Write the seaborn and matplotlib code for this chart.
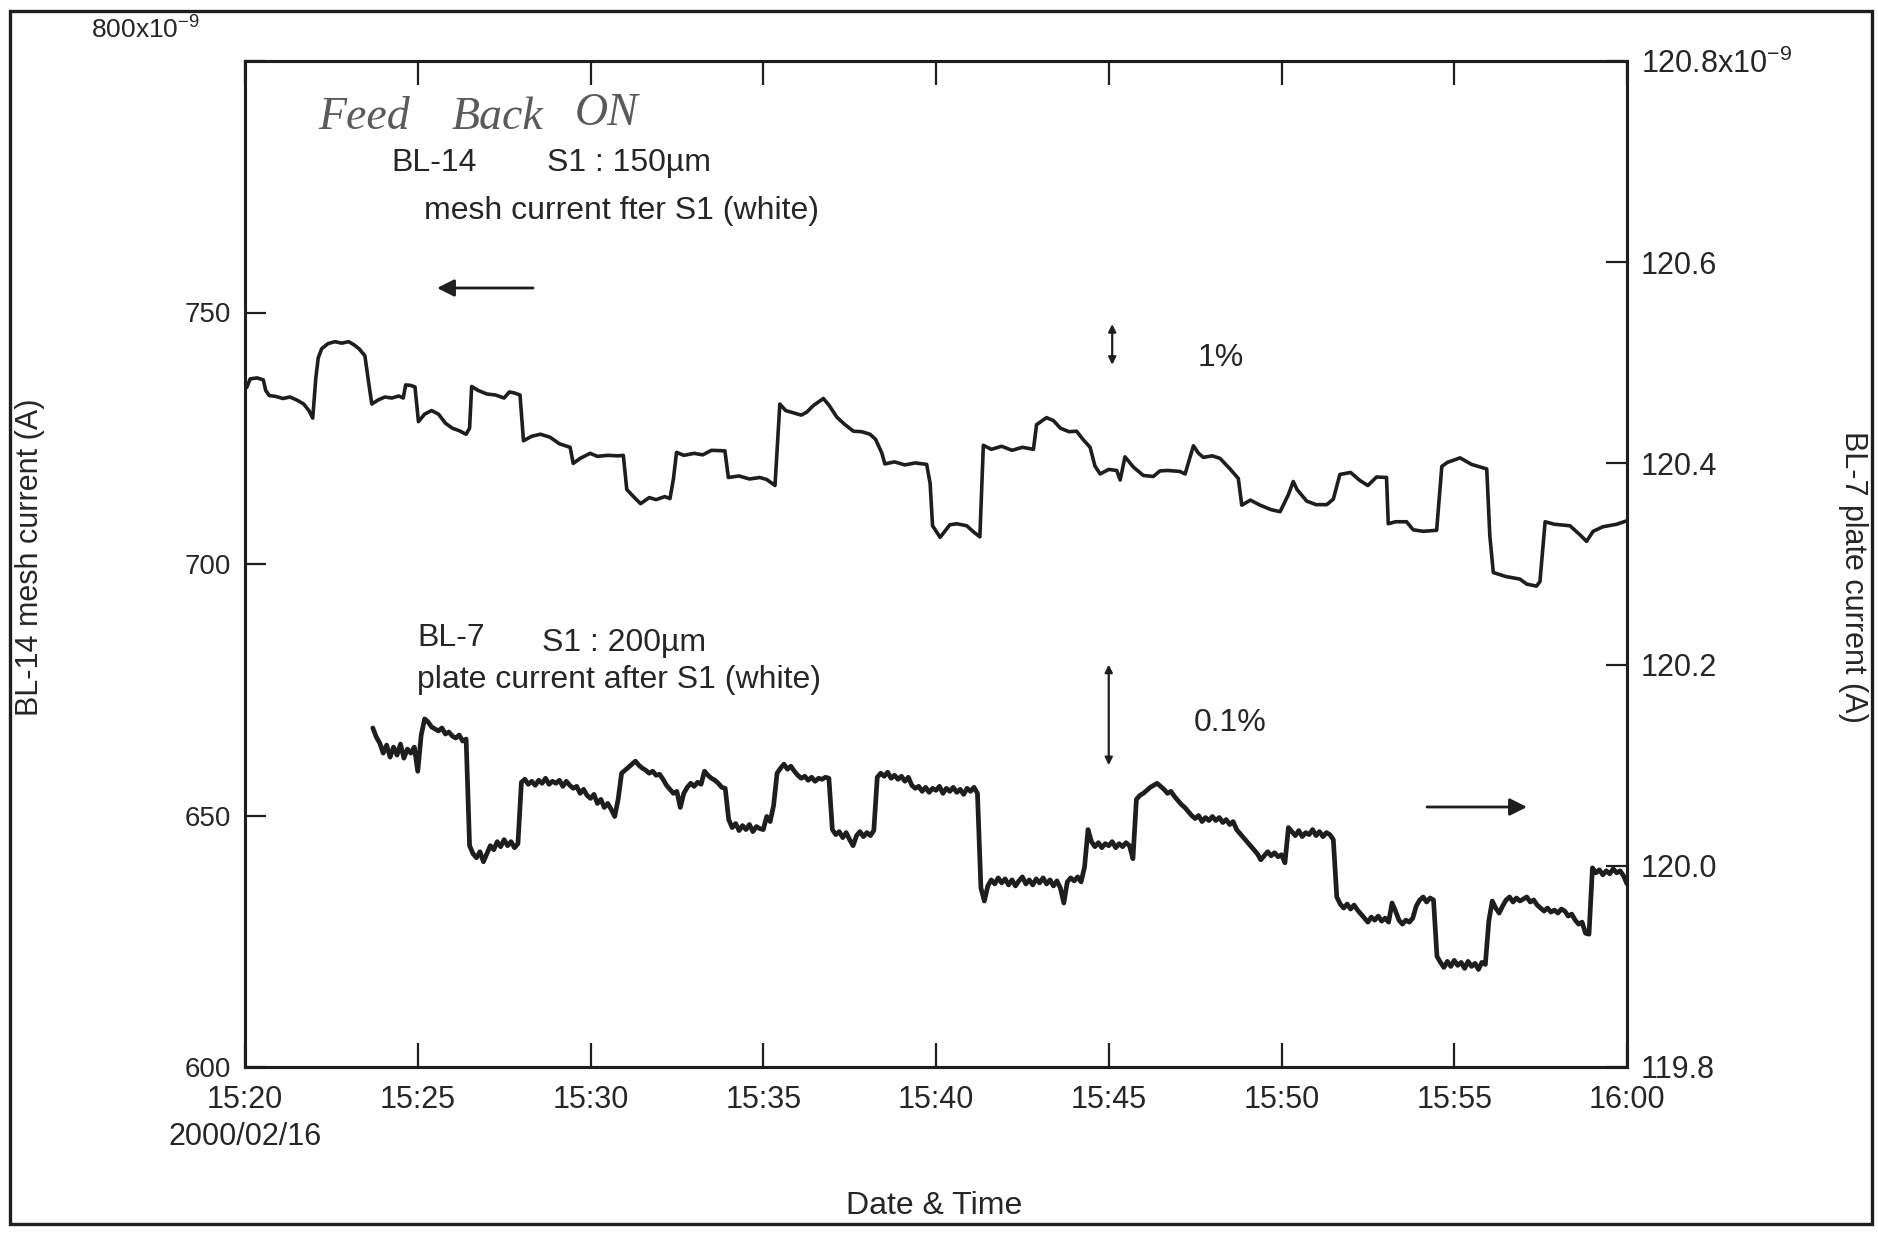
import numpy as np
import pandas as pd
import matplotlib
matplotlib.use("Agg")
import matplotlib.pyplot as plt
import seaborn as sns
from matplotlib.patches import Rectangle

# ---------------- data ----------------
# minutes after 15:20 (2000/02/16)
x_ticks = [0, 5, 10, 15, 20, 25, 30, 35, 40]
x_tick_labels = ["15:20\n2000/02/16", "15:25", "15:30", "15:35", "15:40",
                 "15:45", "15:50", "15:55", "16:00"]
left_ticks = [600, 650, 700, 750, 800]
left_tick_labels = ["600", "650", "700", "750", ""]
left_top_label = r"800x10$^{\mathregular{-9}}$"
right_ticks = [119.8, 120.0, 120.2, 120.4, 120.6, 120.8]
right_tick_labels = ["119.8", "120.0", "120.2", "120.4", "120.6",
                     r"120.8x10$^{\mathregular{-9}}$"]

# BL-14 mesh current (x1e-9 A), left axis
mesh_t = [0.00, 0.05, 0.15, 0.35, 0.53, 0.60, 0.70, 0.90, 1.10, 1.30, 1.50, 1.70, 1.85, 1.96,
          2.05, 2.12, 2.22, 2.40, 2.60, 2.80, 3.00, 3.15, 3.30, 3.47, 3.58, 3.67, 3.85, 4.05,
          4.25, 4.45, 4.58, 4.65, 4.80, 4.92, 5.02, 5.20, 5.40, 5.60, 5.80, 6.00, 6.20, 6.40,
          6.50, 6.56, 6.75, 7.00, 7.25, 7.50, 7.65, 7.80, 7.96, 8.06, 8.30, 8.55, 8.83, 9.10,
          9.41, 9.50, 9.70, 9.99, 10.20, 10.50, 10.80, 10.95, 11.05, 11.30, 11.45, 11.70, 11.90,
          12.15, 12.30, 12.40, 12.49, 12.70, 13.00, 13.25, 13.50, 13.89, 13.99, 14.30, 14.60,
          14.90, 15.10, 15.34, 15.48, 15.65, 15.90, 16.10, 16.26, 16.45, 16.74, 16.90, 17.13,
          17.35, 17.61, 17.85, 18.09, 18.25, 18.43, 18.52, 18.80, 19.10, 19.40, 19.73, 19.83,
          19.90, 20.12, 20.40, 20.60, 20.89, 21.10, 21.27, 21.37, 21.60, 21.90, 22.20, 22.50,
          22.82, 22.91, 23.20, 23.40, 23.60, 23.85, 24.07, 24.25, 24.46, 24.60, 24.75, 25.00,
          25.23, 25.33, 25.47, 25.71, 26.00, 26.29, 26.48, 26.70, 27.06, 27.21, 27.45, 27.60,
          27.74, 28.00, 28.22, 28.51, 28.75, 28.85, 29.10, 29.38, 29.70, 29.96, 30.20, 30.34,
          30.45, 30.73, 31.00, 31.31, 31.50, 31.69, 32.00, 32.27, 32.50, 32.75, 33.04, 33.09,
          33.30, 33.62, 33.81, 34.10, 34.49, 34.64, 34.80, 35.17, 35.50, 35.94, 36.03, 36.13,
          36.50, 36.90, 37.10, 37.38, 37.48, 37.63, 37.90, 38.35, 38.64, 38.83, 39.02, 39.30,
          39.70, 40.00]
mesh_v = [736.0, 735.1, 736.8, 737.0, 736.6, 734.5, 733.5, 733.3, 732.9, 733.2, 732.6, 731.8, 730.5, 729.0,
          737.0, 741.0, 742.8, 743.8, 744.2, 743.9, 744.2, 743.6, 742.8, 741.4, 736.0, 731.8, 732.6, 733.2,
          733.0, 733.4, 733.0, 735.6, 735.5, 735.2, 728.3, 729.8, 730.5, 729.8, 728.0, 727.0, 726.5, 725.8,
          727.0, 735.3, 734.5, 733.8, 733.6, 733.0, 734.2, 734.0, 733.6, 724.5, 725.4, 725.8, 725.2, 723.9,
          723.2, 720.0, 721.0, 722.0, 721.4, 721.6, 721.5, 721.6, 714.8, 713.0, 712.0, 713.2, 712.8,
          713.4, 713.0, 716.9, 722.2, 721.6, 722.0, 721.7, 722.6, 722.5, 717.2, 717.5, 716.9,
          717.2, 716.8, 715.6, 731.8, 730.5, 730.0, 729.6, 730.2, 731.5, 732.9, 731.6, 729.2,
          727.8, 726.4, 726.3, 725.8, 724.8, 722.1, 719.9, 720.3, 719.7, 720.1, 719.8, 716.0,
          707.6, 705.3, 707.8, 708.0, 707.6, 706.3, 705.4, 723.6, 722.8, 723.4, 722.6, 723.2,
          722.8, 727.7, 729.1, 728.5, 727.0, 726.3, 726.4, 724.8, 723.2, 719.5, 717.9, 718.8,
          718.6, 716.7, 721.3, 719.3, 717.6, 717.4, 718.5, 718.6, 718.4, 717.9, 723.5, 722.0,
          721.2, 721.5, 721.0, 718.9, 717.0, 711.7, 712.7, 711.7, 710.8, 710.4, 713.8, 716.4,
          714.8, 712.5, 711.8, 711.8, 712.9, 717.8, 718.2, 716.6, 715.6, 717.3, 717.2, 708.0,
          708.4, 708.4, 706.8, 706.5, 706.7, 719.4, 720.2, 721.1, 719.8, 718.9, 705.6, 698.3,
          697.5, 697.0, 696.0, 695.6, 696.5, 708.4, 707.9, 707.6, 705.8, 704.5, 706.5, 707.4,
          707.9, 708.6]

# BL-7 plate current (x1e-9 A), right axis, sampled every 0.1 min from 15:23.7
plate_start = 3.7
plate_step = 0.1
plate_v = [
    120.137, 120.128, 120.122,
    120.112, 120.120, 120.108, 120.118, 120.110, 120.121, 120.107, 120.116, 120.112, 120.118,
    120.094, 120.130, 120.146, 120.143, 120.138, 120.136, 120.134, 120.137, 120.131, 120.133,
    120.129, 120.127, 120.130, 120.124, 120.126, 120.020, 120.012, 120.008, 120.014, 120.004,
    120.012, 120.020, 120.016, 120.024, 120.019, 120.026, 120.020, 120.024, 120.018, 120.022,
    120.083, 120.086, 120.081, 120.084, 120.080, 120.085, 120.082, 120.087, 120.081, 120.084,
    120.082, 120.085, 120.079, 120.084, 120.080, 120.077, 120.079, 120.072, 120.076, 120.070,
    120.067, 120.071, 120.062, 120.066, 120.058, 120.062, 120.056, 120.049, 120.066, 120.092,
    120.095, 120.098, 120.101, 120.104, 120.100, 120.097, 120.095, 120.092, 120.094, 120.090,
    120.091, 120.086, 120.080, 120.076, 120.072, 120.074, 120.058, 120.072, 120.078, 120.082,
    120.079, 120.083, 120.081, 120.094, 120.090, 120.087, 120.085, 120.082, 120.078, 120.077,
    120.046, 120.038, 120.042, 120.035, 120.040, 120.036, 120.041, 120.034, 120.039, 120.037,
    120.036, 120.049, 120.044, 120.060, 120.092, 120.097, 120.101, 120.096, 120.099, 120.094,
    120.090, 120.087, 120.089, 120.085, 120.088, 120.084, 120.087, 120.086, 120.088, 120.087,
    120.036, 120.031, 120.034, 120.028, 120.033, 120.026, 120.020, 120.030, 120.034, 120.029,
    120.033, 120.030, 120.035, 120.088, 120.092, 120.089, 120.093, 120.087, 120.090, 120.086,
    120.089, 120.084, 120.088, 120.080, 120.077, 120.079, 120.074, 120.078, 120.073, 120.077,
    120.075, 120.079, 120.072, 120.077, 120.074, 120.078, 120.073, 120.076, 120.071, 120.077,
    120.074, 120.078, 120.072, 119.978, 119.965, 119.980, 119.986, 119.982, 119.988, 119.983,
    119.987, 119.981, 119.986, 119.980, 119.985, 119.989, 119.982, 119.986, 119.981, 119.987,
    119.983, 119.988, 119.982, 119.986, 119.980, 119.985, 119.978, 119.963, 119.984, 119.988,
    119.985, 119.989, 119.984, 119.999, 120.036, 120.024, 120.019, 120.023, 120.018, 120.022,
    120.020, 120.024, 120.018, 120.022, 120.019, 120.023, 120.020, 120.007, 120.066, 120.070,
    120.072, 120.075, 120.078, 120.080, 120.082, 120.079, 120.076, 120.072, 120.074, 120.069,
    120.065, 120.061, 120.058, 120.054, 120.050, 120.047, 120.050, 120.044, 120.048, 120.045,
    120.049, 120.045, 120.048, 120.043, 120.046, 120.041, 120.044, 120.036, 120.032, 120.028,
    120.024, 120.020, 120.016, 120.012, 120.006, 120.010, 120.014, 120.010, 120.013, 120.009,
    120.011, 120.003, 120.038, 120.034, 120.030, 120.035, 120.029, 120.033, 120.031, 120.036,
    120.030, 120.034, 120.029, 120.033, 120.031, 120.026, 119.969, 119.962, 119.958, 119.962,
    119.957, 119.961, 119.956, 119.952, 119.948, 119.944, 119.949, 119.946, 119.950, 119.945,
    119.948, 119.944, 119.963, 119.955, 119.946, 119.942, 119.946, 119.944, 119.948, 119.960,
    119.966, 119.969, 119.964, 119.968, 119.966, 119.910, 119.904, 119.899, 119.905, 119.900,
    119.906, 119.901, 119.904, 119.898, 119.905, 119.900, 119.903, 119.897, 119.904, 119.902,
    119.945, 119.965, 119.958, 119.953, 119.960, 119.966, 119.969, 119.964, 119.968, 119.965,
    119.967, 119.969, 119.964, 119.966, 119.961, 119.958, 119.955, 119.958, 119.954, 119.956,
    119.953, 119.957, 119.955, 119.950, 119.952, 119.946, 119.942, 119.944, 119.933, 119.932,
    119.998, 119.993, 119.996, 119.991, 119.995, 119.992, 119.997, 119.993, 119.995, 119.990,
    119.982,
]

# ---------------- style ----------------
sns.set_theme(style="ticks")
plt.rcParams["font.family"] = ["Liberation Sans", "DejaVu Sans"]
plt.rcParams["mathtext.fontset"] = "custom"
plt.rcParams["mathtext.rm"] = "Liberation Sans"
plt.rcParams["mathtext.it"] = "Liberation Sans:italic"
plt.rcParams["mathtext.bf"] = "Liberation Sans:bold"

INK = "#1e1e1e"
TXT = "#262626"
FS_TICK = 22
FS_LTICK = 20
FS_NOTE = 23
FS_LAB = 22

W_PX, H_PX = 1878, 1237
def fx(x):
    return x / W_PX
def fy(y):
    return 1 - y / H_PX

fig = plt.figure(figsize=(W_PX / 100, H_PX / 100), dpi=100)
fig.patch.set_facecolor("white")

L, R, T, B = 245, 1627, 61, 1067
ax = fig.add_axes([fx(L), fy(B), (R - L) / W_PX, (B - T) / H_PX])
ax.set_facecolor("white")
ax2 = ax.twinx()

mesh_df = pd.DataFrame({"t": mesh_t, "v": mesh_v})
plate_df = pd.DataFrame({"v": plate_v})
plate_df["t"] = plate_start + plate_step * np.arange(len(plate_v))

sns.lineplot(data=mesh_df, x="t", y="v", ax=ax, color=INK, linewidth=2.6,
             estimator=None, sort=False)
sns.lineplot(data=plate_df, x="t", y="v", ax=ax2, color=INK, linewidth=3.4,
             estimator=None, sort=False)

ax.set_xlim(0, 40)
ax.set_ylim(600, 800)
ax2.set_ylim(119.8, 120.8)
ax.set_xticks(x_ticks)
ax.set_xticklabels(x_tick_labels)
ax.set_yticks(left_ticks)
ax.set_yticklabels(left_tick_labels)
ax2.set_yticks(right_ticks)
ax2.set_yticklabels(right_tick_labels)
ax.set_xlabel("")
ax.set_ylabel("")
ax2.set_ylabel("")

ax.tick_params(axis="x", direction="in", length=17, width=1.6, colors=INK,
               top=True, bottom=True, labelsize=FS_TICK, pad=13, labelcolor=TXT)
ax.tick_params(axis="y", direction="in", length=15, width=1.6, colors=INK,
               left=True, right=False, labelsize=FS_LTICK, pad=10, labelcolor=TXT)
ax2.tick_params(axis="y", direction="in", length=15, width=1.6, colors=INK,
                right=True, left=False, labelsize=FS_TICK, pad=10, labelcolor=TXT)
for lbl in ax.get_xticklabels():
    lbl.set_linespacing(1.3)

for a in (ax, ax2):
    for s in a.spines.values():
        s.set_visible(True)
        s.set_linewidth(2.2)
        s.set_color(INK)

# top-left axis multiplier label (sits above the frame in the original)
fig.text(fx(200), fy(30), left_top_label, ha="right", va="center",
         fontsize=19, color=TXT)

# axis titles
fig.text(fx(30), fy(557), "BL-14 mesh current (A)", rotation=90,
         ha="center", va="center", fontsize=FS_LAB, color=TXT)
fig.text(fx(1853), fy(577), "BL-7 plate current (A)", rotation=270,
         ha="center", va="center", fontsize=FS_LAB, color=TXT)
fig.text(fx(934), fy(1206), "Date & Time", ha="center", va="center",
         fontsize=FS_NOTE, color=TXT)

# handwritten note
hand = dict(ha="left", va="center", fontsize=33, family=["Liberation Serif", "DejaVu Serif"],
            style="italic", color="#5a5a5a")
fig.text(fx(318), fy(118), "Feed", **hand)
fig.text(fx(452), fy(118), "Back", **hand)
fig.text(fx(575), fy(114), "ON", **hand)

# printed annotations
fig.text(fx(391), fy(163), "BL-14", ha="left", va="center", fontsize=FS_NOTE, color=TXT)
fig.text(fx(547), fy(163), "S1 : 150µm", ha="left", va="center", fontsize=FS_NOTE, color=TXT)
fig.text(fx(424), fy(211), "mesh current fter S1 (white)", ha="left", va="center",
         fontsize=FS_NOTE, color=TXT)
fig.text(fx(417), fy(638), "BL-7", ha="left", va="center", fontsize=FS_NOTE, color=TXT)
fig.text(fx(542), fy(643), "S1 : 200µm", ha="left", va="center", fontsize=FS_NOTE, color=TXT)
fig.text(fx(417), fy(680), "plate current after S1 (white)", ha="left", va="center",
         fontsize=FS_NOTE, color=TXT)
fig.text(fx(1198), fy(358), "1%", ha="left", va="center", fontsize=FS_NOTE, color=TXT)
fig.text(fx(1194), fy(723), "0.1%", ha="left", va="center", fontsize=FS_NOTE, color=TXT)

arrow_kw = dict(arrowstyle="-|>", lw=2.0, color=INK, mutation_scale=26,
                shrinkA=0, shrinkB=0)
ax.annotate("", xy=(fx(437), fy(288)), xytext=(fx(533), fy(288)),
            xycoords="figure fraction", textcoords="figure fraction", arrowprops=arrow_kw)
ax.annotate("", xy=(fx(1527), fy(807)), xytext=(fx(1427), fy(807)),
            xycoords="figure fraction", textcoords="figure fraction", arrowprops=arrow_kw)

dbl_kw = dict(arrowstyle="<|-|>", lw=1.6, color=INK, mutation_scale=11,
              shrinkA=0, shrinkB=0)
ax.annotate("", xy=(25.1, 747.7), xytext=(25.1, 739.6), arrowprops=dbl_kw)
ax2.annotate("", xy=(25.0, 120.20), xytext=(25.0, 120.10), arrowprops=dbl_kw)

# scanned-page frame
fig.add_artist(Rectangle((fx(10), fy(1224)), (1872 - 10) / W_PX, (1224 - 11) / H_PX,
                         transform=fig.transFigure, fill=False, lw=2.4, ec=INK))

fig.savefig("out.png", dpi=100, facecolor="white")
